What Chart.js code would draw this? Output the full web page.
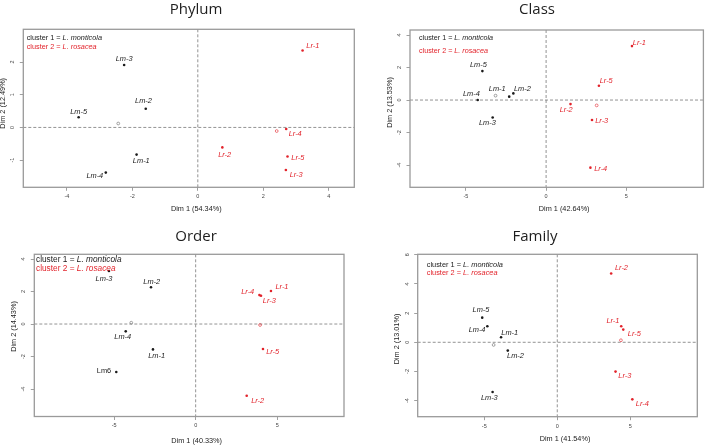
<!DOCTYPE html>
<html>
<head>
<meta charset="utf-8">
<script src="https://cdn.jsdelivr.net/npm/chart.js@4.4.1/dist/chart.umd.min.js"></script>
<style>
  body { margin: 0; background: #fff; }
  .wrap { position: relative; width: 708px; height: 446px; }
  .wrap canvas { position: absolute; left: 0; top: 0; }
</style>
</head>
<body>
<div class="wrap">
  <canvas id="phylum" width="708" height="446"></canvas>
  <canvas id="class" width="708" height="446"></canvas>
  <canvas id="order" width="708" height="446"></canvas>
  <canvas id="family" width="708" height="446"></canvas>
</div>
<script>
/* ── DADOS ── */
const sampleNames = ['Lm-1', 'Lm-2', 'Lm-3', 'Lm-4', 'Lm-5', 'Lr-1', 'Lr-2', 'Lr-3', 'Lr-4', 'Lr-5'];
const orderNames = ['Lm-1', 'Lm-2', 'Lm-3', 'Lm-4', 'Lm6', 'Lr-1', 'Lr-2', 'Lr-3', 'Lr-4', 'Lr-5'];
const sampleCluster = [1, 1, 1, 1, 1, 2, 2, 2, 2, 2];
const uprightLabels = ['Lm6'];

const phylumDim1 = [-1.87, -1.59, -2.25, -2.81, -3.64, 3.20, 0.75, 2.69, 2.70, 2.74];
const phylumDim2 = [-0.83, 0.57, 1.91, -1.38, 0.31, 2.35, -0.61, -1.30, -0.05, -0.89];
const phylumCenterDim1 = [-2.43, 2.41];
const phylumCenterDim2 = [0.12, -0.11];

const classDim1 = [-2.30, -2.04, -3.33, -4.26, -3.97, 5.35, 1.52, 2.86, 2.76, 3.29];
const classDim2 = [0.21, 0.41, -1.07, 0.00, 1.78, 3.32, -0.25, -1.23, -4.16, 0.88];
const classCenterDim1 = [-3.15, 3.15];
const classCenterDim2 = [0.27, -0.33];

const orderDim1 = [-2.62, -2.74, -5.32, -4.29, -4.87, 4.62, 3.13, 4.01, 3.91, 4.13];
const orderDim2 = [-1.56, 2.26, 3.26, -0.45, -2.95, 2.03, -4.41, 1.74, 1.78, -1.54];
const orderCenterDim1 = [-3.95, 3.95];
const orderCenterDim2 = [0.08, -0.06];

const familyDim1 = [-3.85, -3.39, -4.43, -4.79, -5.14, 4.38, 3.69, 3.99, 5.14, 4.52];
const familyDim2 = [0.34, -0.57, -3.41, 1.10, 1.69, 1.10, 4.71, -2.01, -3.91, 0.87];
const familyCenterDim1 = [-4.36, 4.36];
const familyCenterDim2 = [-0.18, 0.14];

const phylumXTicks = [-4, -2, 0, 2, 4];
const phylumYTicks = [-1, 0, 1, 2];
const classXTicks = [-5, 0, 5];
const classYTicks = [-4, -2, 0, 2, 4];
const orderXTicks = [-5, 0, 5];
const orderYTicks = [-4, -2, 0, 2, 4];
const familyXTicks = [-5, 0, 5];
const familyYTicks = [-4, -2, 0, 2, 4, 6];

/* deslocamento dos rótulos (px) */
const phylumLabelDx = [4.7, -2.3, 0, -11, 0, 10.3, 2.3, 10.3, 9, 10.3];
const phylumLabelDy = [6, -7.7, -5.7, 3.3, -5.7, -5, 7.7, 5, 5.3, 1];
const classLabelDx = [-12, 9, -5.3, -6.3, -4, 7.3, -4.3, 9.7, 10.3, 7.3];
const classLabelDy = [-7.7, -4.3, 6, -6, -5.7, -3.3, 5.7, 0.7, 1, -4.7];
const orderLabelDx = [3.7, 0.7, -5, -3, -12.3, 11, 11, 8.3, -11.7, 9.7];
const orderLabelDy = [7, -5.7, 7.7, 6, -1, -4, 5.3, 5, -2.7, 2.7];
const familyLabelDx = [8.7, 7.7, -3.3, -10.3, -1.3, -8.3, 10.3, 9.3, 10, 11];
const familyLabelDy = [-4.7, 5, 6, 3.3, -7.3, -5.7, -5.3, 4.7, 4.3, 4];

/* ── ESTILO ── */
const BLACK = '#1a1a1a';
const RED = '#e2232b';
const FONT = '"Liberation Sans", Arial, sans-serif';

/* ── PLUGIN: caixa, linhas zero, rótulos, legenda, títulos ── */
const decor = {
    id: 'decor',
    beforeDatasetsDraw(chart) {
        const { ctx, chartArea: a, scales: { x, y } } = chart;
        ctx.save();
        ctx.strokeStyle = '#777';
        ctx.lineWidth = 0.8;
        ctx.setLineDash([3, 2]);
        const x0 = x.getPixelForValue(0);
        const y0 = y.getPixelForValue(0);
        ctx.beginPath();
        ctx.moveTo(x0, a.top); ctx.lineTo(x0, a.bottom);
        ctx.moveTo(a.left, y0); ctx.lineTo(a.right, y0);
        ctx.stroke();
        ctx.setLineDash([]);
        ctx.strokeStyle = '#9a9a9a';
        ctx.lineWidth = 1.3;
        ctx.strokeRect(a.left, a.top, a.right - a.left, a.bottom - a.top);
        ctx.restore();
    },
    afterDatasetsDraw(chart) {
        const p = chart.config.options.panel;
        const { ctx, chartArea: a, scales: { x, y } } = chart;
        ctx.save();
        ctx.textAlign = 'center';
        ctx.textBaseline = 'middle';

        // rótulos dos pontos
        p.names.forEach((name, i) => {
            const px = x.getPixelForValue(p.dim1[i]) + p.dx[i];
            const py = y.getPixelForValue(p.dim2[i]) + p.dy[i];
            const style = uprightLabels.includes(name) ? '' : 'italic ';
            ctx.font = style + '7.4px ' + FONT;
            ctx.fillStyle = sampleCluster[i] === 1 ? BLACK : RED;
            ctx.fillText(name, px, py);
        });

        // legenda
        const lg = p.legend;
        ctx.textAlign = 'left';
        [['cluster 1 = ', 'L. monticola', BLACK], ['cluster 2 = ', 'L. rosacea', RED]]
            .forEach((row, k) => {
                const ly = a.top + lg.dy[k];
                let lx = a.left + lg.dx;
                ctx.fillStyle = row[2];
                ctx.font = lg.size + 'px ' + FONT;
                ctx.fillText(row[0], lx, ly);
                lx += ctx.measureText(row[0]).width;
                ctx.font = 'italic ' + lg.size + 'px ' + FONT;
                ctx.fillText(row[1], lx, ly);
            });

        // títulos dos eixos
        ctx.fillStyle = '#222';
        ctx.font = '7.3px ' + FONT;
        ctx.textAlign = 'center';
        ctx.fillText(p.xTitle, (a.left + a.right) / 2 + 7.5, a.bottom + p.xTitleDy);
        ctx.save();
        ctx.translate(a.left - 20.5, p.yTitleY);
        ctx.rotate(-Math.PI / 2);
        ctx.fillText(p.yTitle, 0, 0);
        ctx.restore();

        // título do painel
        ctx.font = '15px "Open Sans", "Noto Sans", sans-serif';
        ctx.textBaseline = 'alphabetic';
        ctx.fillStyle = '#1e1e1e';
        ctx.fillText(p.title, p.titleX, p.titleY);
        ctx.restore();
    }
};

/* ── GRÁFICO ── */
function axis(min, max, ticks, isY) {
    return {
        type: 'linear',
        min,
        max,
        afterBuildTicks: s => { s.ticks = ticks.map(v => ({ value: v })); },
        afterFit: s => { if (isY) s.width = 14; else s.height = 14; },
        grid: {
            drawOnChartArea: false,
            drawTicks: true,
            tickLength: 3.5,
            color: '#888',
            lineWidth: 0.8
        },
        border: { display: false },
        ticks: {
            color: '#444',
            font: { size: 5.5, family: FONT },
            padding: isY ? 4.5 : 2.5,
            includeBounds: false,
            minRotation: isY ? 90 : 0,
            maxRotation: isY ? 90 : 0,
            crossAlign: isY ? 'center' : 'near'
        }
    };
}

function makeChart(id, p) {
    const pts = (cl) => p.dim1
        .map((v, i) => ({ x: v, y: p.dim2[i], c: sampleCluster[i] }))
        .filter(d => d.c === cl);
    const ctr = (k) => [{ x: p.cDim1[k], y: p.cDim2[k] }];

    return new Chart(document.getElementById(id), {
        type: 'scatter',
        data: {
            datasets: [
                { data: pts(1), pointRadius: 1.3, backgroundColor: BLACK, borderWidth: 0 },
                { data: pts(2), pointRadius: 1.3, backgroundColor: RED, borderWidth: 0 },
                { data: ctr(0), pointRadius: 1.4, backgroundColor: 'rgba(0,0,0,0)', borderColor: '#666', borderWidth: 0.6 },
                { data: ctr(1), pointRadius: 1.4, backgroundColor: 'rgba(0,0,0,0)', borderColor: RED, borderWidth: 0.6 }
            ]
        },
        options: {
            responsive: false,
            animation: false,
            events: [],
            panel: p,
            layout: {
                padding: {
                    left: p.box.l - 14,
                    top: p.box.t,
                    right: 708 - p.box.r,
                    bottom: 446 - p.box.b - 14
                }
            },
            plugins: { legend: { display: false }, tooltip: { enabled: false } },
            scales: {
                x: axis(p.xRange[0], p.xRange[1], p.xTicks, false),
                y: axis(p.yRange[0], p.yRange[1], p.yTicks, true)
            }
        },
        plugins: [decor]
    });
}

makeChart('phylum', {
    title: 'Phylum', titleX: 196, titleY: 14,
    names: sampleNames, dim1: phylumDim1, dim2: phylumDim2,
    cDim1: phylumCenterDim1, cDim2: phylumCenterDim2,
    dx: phylumLabelDx, dy: phylumLabelDy,
    xTicks: phylumXTicks, yTicks: phylumYTicks,
    box: { l: 23.3, t: 29.3, r: 354.3, b: 187.3 },
    xRange: [-5.33, 4.78], yRange: [-1.83, 3.0],
    xTitle: 'Dim 1 (54.34%)', xTitleDy: 21.5,
    yTitle: 'Dim 2 (12.49%)', yTitleY: 103.3,
    legend: { dx: 3.4, dy: [9, 18], size: 7.3 }
});

makeChart('class', {
    title: 'Class', titleX: 537, titleY: 14,
    names: sampleNames, dim1: classDim1, dim2: classDim2,
    cDim1: classCenterDim1, cDim2: classCenterDim2,
    dx: classLabelDx, dy: classLabelDy,
    xTicks: classXTicks, yTicks: classYTicks,
    box: { l: 410, t: 30, r: 706, b: 187.3 },
    xRange: [-8.48, 9.80], yRange: [-5.37, 4.31],
    xTitle: 'Dim 1 (42.64%)', xTitleDy: 21.5,
    yTitle: 'Dim 2 (13.53%)', yTitleY: 102.5,
    legend: { dx: 9, dy: [8.3, 20.7], size: 7.2 }
});

makeChart('order', {
    title: 'Order', titleX: 196, titleY: 241,
    names: orderNames, dim1: orderDim1, dim2: orderDim2,
    cDim1: orderCenterDim1, cDim2: orderCenterDim2,
    dx: orderLabelDx, dy: orderLabelDy,
    xTicks: orderXTicks, yTicks: orderYTicks,
    box: { l: 34.3, t: 254.3, r: 344, b: 416.5 },
    xRange: [-9.90, 9.10], yRange: [-5.69, 4.29],
    xTitle: 'Dim 1 (40.33%)', xTitleDy: 24.5,
    yTitle: 'Dim 2 (14.43%)', yTitleY: 326.5,
    legend: { dx: 1.7, dy: [5, 14], size: 8.3 }
});

makeChart('family', {
    title: 'Family', titleX: 535, titleY: 241,
    names: sampleNames, dim1: familyDim1, dim2: familyDim2,
    cDim1: familyCenterDim1, cDim2: familyCenterDim2,
    dx: familyLabelDx, dy: familyLabelDy,
    xTicks: familyXTicks, yTicks: familyYTicks,
    box: { l: 417.7, t: 254.3, r: 697.3, b: 416.7 },
    xRange: [-9.56, 9.59], yRange: [-5.10, 6.03],
    xTitle: 'Dim 1 (41.54%)', xTitleDy: 22.5,
    yTitle: 'Dim 2 (13.01%)', yTitleY: 339,
    legend: { dx: 9, dy: [10.7, 19], size: 7.4 }
});
</script>
</body>
</html>
